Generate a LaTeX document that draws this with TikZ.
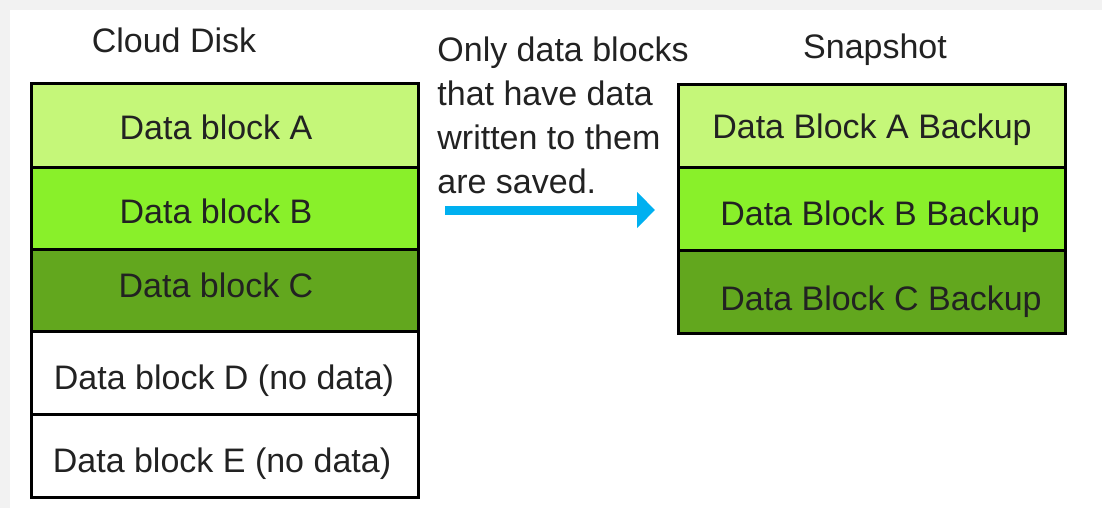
\documentclass[tikz,border=0pt]{standalone}
\usepackage{fontspec}
\setmainfont{Liberation Sans}
\usetikzlibrary{arrows.meta}
\definecolor{blkA}{RGB}{197,247,121}
\definecolor{blkB}{RGB}{137,240,42}
\definecolor{blkC}{RGB}{98,167,30}
\definecolor{arrowblue}{RGB}{0,176,240}
\definecolor{txt}{RGB}{34,34,34}
\definecolor{shadowgray}{RGB}{242,242,242}
\begin{document}
\begin{tikzpicture}[x=0.5pt,y=-0.5pt,
  blockbox/.style={draw=black,line width=1.5pt,minimum width=193.5pt,minimum height=41.5pt,inner sep=0pt,outer sep=0pt},
  lbl/.style={font=\fontsize{17}{22}\selectfont,text=txt,inner sep=0pt}]
\useasboundingbox (0,0) rectangle (1102,508);
\fill[shadowgray] (0,0) rectangle (1102,508);
\fill[white] (10,10) rectangle (1102,508);
% left column
\node[blockbox,fill=blkA] (la) at (224.5,125.5) {};
\node[blockbox,fill=blkB] (lb) at (224.5,208.5) {};
\node[blockbox,fill=blkC] (lc) at (224.5,291) {};
\node[blockbox,fill=white] (ld) at (224.5,373) {};
\node[blockbox,fill=white] (le) at (224.5,455.5) {};
\node[lbl] (tla) at (216,127) {Data block A};
\node[lbl] (tlb) at (216,211) {Data block B};
\node[lbl] (tlc) at (216,285) {Data block C};
\node[lbl] (tld) at (224,381) {Data block D (no data)};
\node[lbl] (tle) at (222,464) {Data block E (no data)};
% right column
\node[blockbox,fill=blkA] (ra) at (872,126) {};
\node[blockbox,fill=blkB] (rb) at (872,208.5) {};
\node[blockbox,fill=blkC] (rc) at (872,292) {};
\node[lbl] (tra) at (872,130) {Data Block A Backup};
\node[lbl] (trb) at (880,217) {Data Block B Backup};
\node[lbl] (trc) at (881,302) {Data Block C Backup};
% titles
\node[lbl] (t1) at (174,40) {Cloud Disk};
\node[lbl] (t2) at (875,50) {Snapshot};
\node[lbl,align=left,anchor=north west] (note) at (437,36) {Only data blocks\\that have data\\written to them\\are saved.};
% arrow
\coordinate (as) at (445,210);
\coordinate (ae) at (655,210);
\draw[arrowblue,line width=4.5pt,-{Triangle[length=9pt,width=17.5pt]}] (as) -- (ae);
\end{tikzpicture}
\end{document}
